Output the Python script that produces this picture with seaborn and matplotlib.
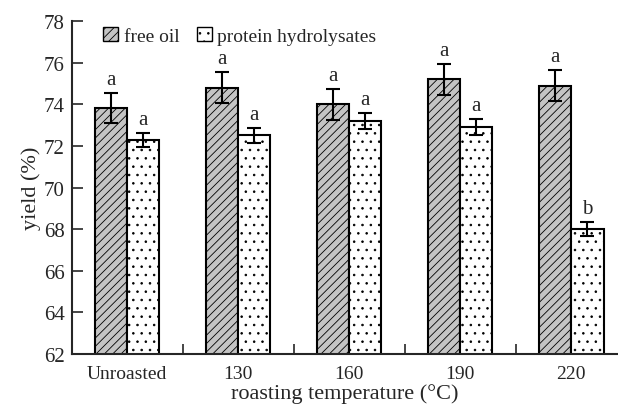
import pandas as pd
import numpy as np
import seaborn as sns
import matplotlib.pyplot as plt
from matplotlib.patches import Patch

temps = ["Unroasted", "130", "160", "190", "220"]
series = ["free oil", "protein hydrolysates"]
free_oil = [73.8, 74.8, 74.0, 75.2, 74.9]
free_oil_sd = [0.72, 0.76, 0.74, 0.75, 0.74]
protein = [72.3, 72.5, 73.2, 72.9, 68.0]
protein_sd = [0.33, 0.37, 0.38, 0.37, 0.33]
free_oil_letters = ["a", "a", "a", "a", "a"]
protein_letters = ["a", "a", "a", "a", "b"]

df = pd.DataFrame({
    "temp": temps * 2,
    "series": [series[0]] * 5 + [series[1]] * 5,
    "yield": free_oil + protein,
    "sd": free_oil_sd + protein_sd,
    "letter": free_oil_letters + protein_letters,
})

sns.set_style("ticks")
plt.rcParams['font.family'] = ['Liberation Serif', 'DejaVu Serif']
plt.rcParams['hatch.linewidth'] = 0.6

fig = plt.figure(figsize=(6.18, 4.06), dpi=100)
ax = fig.add_axes([0.1157, 0.1256, 0.8843, 0.8202])

sns.barplot(data=df, x="temp", y="yield", hue="series", order=temps, hue_order=series,
            palette=["white", "white"], edgecolor="black", linewidth=1.5,
            width=0.58, gap=0, errorbar=None, legend=False, ax=ax)

hatches = ["////", ".."]
colors = ["#c4c4c4", "white"]
# patches come out per hue level, in order of the categories
for i, bar in enumerate(ax.patches[:10]):
    k = i // 5
    j = i % 5
    bar.set_hatch(hatches[k])
    bar.set_facecolor(colors[k])
    row = df[(df["series"] == series[k]) & (df["temp"] == temps[j])].iloc[0]
    xc = bar.get_x() + bar.get_width() / 2
    ax.errorbar(xc, row["yield"], yerr=row["sd"], color="black", lw=1.5,
                capsize=5, capthick=1.5, zorder=5)
    ax.text(xc, row["yield"] + row["sd"] + 0.2, row["letter"], ha="center",
            va="bottom", fontsize=15)

ax.set_ylim(62, 78)
ax.set_yticks(range(62, 79, 2))
ax.set_xlim(-0.5, 4.42)
ax.set_xticks(range(5))
ax.set_xticklabels(temps)
ax.tick_params(axis="x", length=0, labelsize=14, pad=8)
ax.set_xticks(np.arange(0.5, 4.5, 1), minor=True)
ax.tick_params(axis="x", which="minor", direction="in", length=7, width=1.2)
ax.tick_params(axis="y", direction="in", length=8, width=1.2, labelsize=15, pad=5)
for s in ["top", "right"]:
    ax.spines[s].set_visible(False)
for s in ["left", "bottom"]:
    ax.spines[s].set_linewidth(1.5)

ax.set_xlabel("roasting temperature (°C)", fontsize=16, labelpad=1)
ax.set_ylabel("yield (%)", fontsize=16, labelpad=2)

handles = [Patch(facecolor=colors[k], edgecolor="black", hatch=hatches[k], label=series[k]) for k in range(2)]
ax.legend(handles=handles, loc="upper left", bbox_to_anchor=(0.037, 1.018), ncol=2,
          frameon=False, fontsize=14, handlelength=0.75, handleheight=0.75,
          handletextpad=0.3, columnspacing=0.9, borderaxespad=0.2)

plt.savefig("out.png", dpi=100)
